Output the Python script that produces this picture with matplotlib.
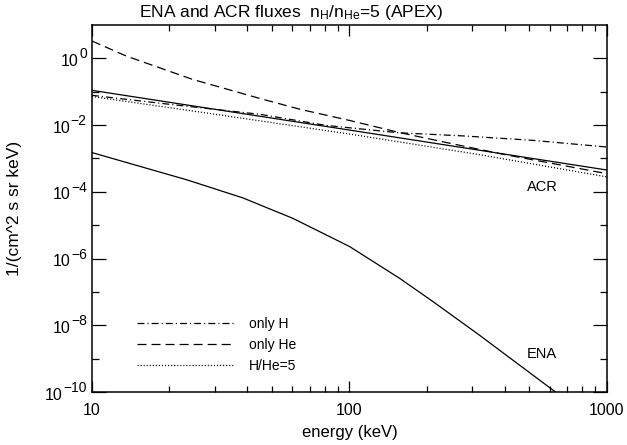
import numpy as np
import matplotlib
matplotlib.use('Agg')
import matplotlib.pyplot as plt
from matplotlib.ticker import FixedLocator, FuncFormatter, NullFormatter
from matplotlib.transforms import blended_transform_factory

plt.rcParams['font.family'] = ['Liberation Sans', 'DejaVu Sans']
plt.rcParams['mathtext.fontset'] = 'custom'
plt.rcParams['mathtext.rm'] = 'Liberation Sans'
plt.rcParams['mathtext.it'] = 'Liberation Sans'
plt.rcParams['lines.scale_dashes'] = False

# values (energy in keV, flux in 1/(cm^2 s sr keV))
acr_energy = [10, 100, 1000]
acr_flux = [1.1e-1, 7.1e-3, 4.5e-4]

ena_energy = [10, 23.3, 38.5, 60.3, 100, 156, 209, 316, 631]
ena_flux = [1.5e-3, 2.3e-4, 6.6e-5, 1.6e-5, 2.3e-6, 2.6e-7, 5.4e-8, 5.4e-9, 1.0e-10]

onlyh_energy = [10, 20, 45, 81, 155, 282, 513, 1000]
onlyh_flux = [7.8e-2, 4.2e-2, 2.1e-2, 9.8e-3, 5.9e-3, 4.7e-3, 3.5e-3, 2.2e-3]

onlyhe_energy = [10, 13.6, 24.6, 44.8, 64, 100, 156, 251, 398, 631, 1000]
onlyhe_flux = [3.31, 1.17, 0.234, 6.3e-2, 3.0e-2, 1.38e-2, 6.0e-3, 2.75e-3, 1.32e-3, 6.8e-4, 3.5e-4]

mix_energy = [10, 31.6, 100, 316, 1000]
mix_flux = [7.2e-2, 2.0e-2, 5.4e-3, 1.32e-3, 2.8e-4]

legend_labels = ['only H', 'only He', 'H/He=5']
y_major_exp = [-10, -8, -6, -4, -2, 0]
y_minor_exp = [-9, -7, -5, -3, -1]
x_major = [10, 100, 1000]

fig = plt.figure(figsize=(6.27, 4.45), dpi=100)
ax = fig.add_axes([0.1467, 0.1191, 0.8214, 0.8247])

lw = 0.9
dashdot = (0, (5.0, 2.2, 0.8, 2.2))
dashed = (0, (6.5, 3.6))
dotted = (0, (0.8, 1.4))

ax.plot(acr_energy, acr_flux, color='black', lw=lw)
ax.plot(ena_energy, ena_flux, color='black', lw=lw)
ax.plot(onlyh_energy, onlyh_flux, color='black', lw=lw, linestyle=dashdot, label=legend_labels[0])
ax.plot(onlyhe_energy, onlyhe_flux, color='black', lw=lw, linestyle=dashed, label=legend_labels[1])
ax.plot(mix_energy, mix_flux, color='black', lw=lw, linestyle=dotted, label=legend_labels[2])

ax.set_xscale('log')
ax.set_yscale('log')
ax.set_xlim(10, 1000)
ax.set_ylim(1e-10, 1e1)

ax.xaxis.set_major_locator(FixedLocator(x_major))
ax.xaxis.set_major_formatter(FuncFormatter(lambda v, p: f'{v:g}'))
ax.xaxis.set_minor_formatter(NullFormatter())
ax.yaxis.set_major_locator(FixedLocator([10.0 ** e for e in y_major_exp]))
ax.yaxis.set_major_formatter(NullFormatter())
ax.yaxis.set_minor_locator(FixedLocator([10.0 ** e for e in y_minor_exp]))
ax.yaxis.set_minor_formatter(NullFormatter())

ax.tick_params(which='both', direction='in', top=True, right=True, width=0.9, labelsize=11.5)
ax.tick_params(axis='x', which='major', length=8, pad=8)
ax.tick_params(axis='x', which='minor', length=4)
ax.tick_params(axis='y', which='major', length=10)
ax.tick_params(axis='y', which='minor', length=5)
for s in ax.spines.values():
    s.set_linewidth(1.1)

# IDL-style y labels: "10" with a big raised exponent
trans = blended_transform_factory(ax.transAxes, ax.transData)
for e in y_major_exp:
    ex = ax.text(-0.010, 10.0 ** e, str(e).replace('-', '\u2212'), transform=trans,
                 ha='right', va='baseline', fontsize=10)
    ax.annotate('10', xy=(0, 0), xycoords=ex, xytext=(-0.5, 0), textcoords='offset points',
                ha='right', va='center', fontsize=11.5)

ax.text(560, 1.4e-4, 'ACR', fontsize=10.5, ha='center', va='center')
ax.text(560, 1.4e-9, 'ENA', fontsize=10.5, ha='center', va='center')

fig.text(0.464, 0.973, r'ENA and ACR fluxes  $\mathregular{n_{H}/n_{He}}$=5 (APEX)', fontsize=12.5,
         ha='center', va='center')
ax.set_xlabel('energy (keV)', fontsize=12, labelpad=5)
ax.set_ylabel('1/(cm^2 s sr keV)', fontsize=12.5)
ax.yaxis.set_label_coords(-0.135, 0.5)

ax.legend(loc='upper left', bbox_to_anchor=(0.087, 0.205), frameon=False, fontsize=10,
          handlelength=7.0, handletextpad=1.1, labelspacing=0.5, borderpad=0, borderaxespad=0)

fig.savefig('out.png', dpi=100)
